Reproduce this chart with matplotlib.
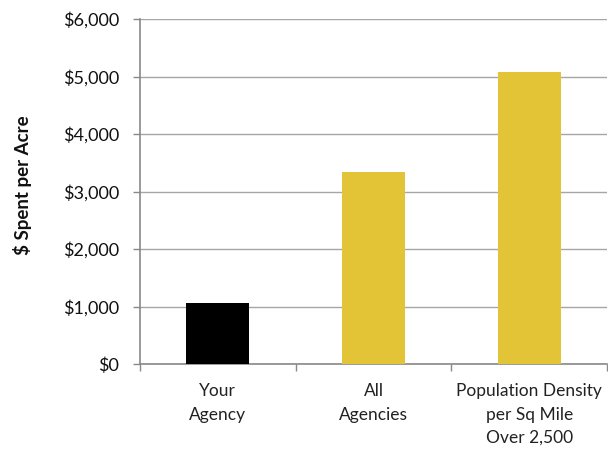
import matplotlib
matplotlib.use("Agg")
import matplotlib.pyplot as plt
from matplotlib.ticker import FuncFormatter, FixedLocator

categories = ["Your\nAgency", "All\nAgencies", "Population Density\nper Sq Mile\nOver 2,500"]
values = [1060, 3340, 5080]
colors = ["#000000", "#E3C436", "#E3C436"]
yticks = [0, 1000, 2000, 3000, 4000, 5000, 6000]
ylabel = "$ Spent per Acre"

plt.rcParams['font.family'] = ['Lato', 'DejaVu Sans']

fig = plt.figure(figsize=(6.08, 4.5), dpi=100)
ax = fig.add_axes([140/608, 1 - 364/450, (607-140)/608, (364-19)/450])

x = list(range(len(categories)))
ax.bar(x, values, width=0.405, color=colors, zorder=3)
ax.set_xlim(-0.5, len(categories) - 0.5)
ax.set_ylim(0, 6000)
ax.set_yticks(yticks)
ax.yaxis.set_major_formatter(FuncFormatter(lambda v, p: f"${v:,.0f}"))
ax.yaxis.grid(True, color="#a6a6a6", linewidth=1.0, zorder=0)
ax.set_axisbelow(True)

ax.set_xticks(x)
ax.set_xticklabels(categories, fontsize=12.5, color="#222222", linespacing=1.55)
ax.tick_params(axis='x', which='major', length=0, pad=14)
ax.xaxis.set_minor_locator(FixedLocator([-0.5, 0.5, 1.5, 2.5]))
ax.tick_params(axis='x', which='minor', length=5, color="#898989", width=1.0)
ax.tick_params(axis='y', length=5, color="#898989", width=1.0, labelsize=13, labelcolor="#111111", pad=10)

for s in ["top", "right"]:
    ax.spines[s].set_visible(False)
for s in ["left", "bottom"]:
    ax.spines[s].set_color("#898989")
    ax.spines[s].set_linewidth(1.2)

ax.set_ylabel(ylabel, fontsize=13.5, fontweight="bold", color="#111111")
ax.yaxis.set_label_coords(23/608, 1 - 185/450, transform=fig.transFigure)
ax.yaxis.label.set_verticalalignment("center")

fig.savefig("out.png", dpi=100)
